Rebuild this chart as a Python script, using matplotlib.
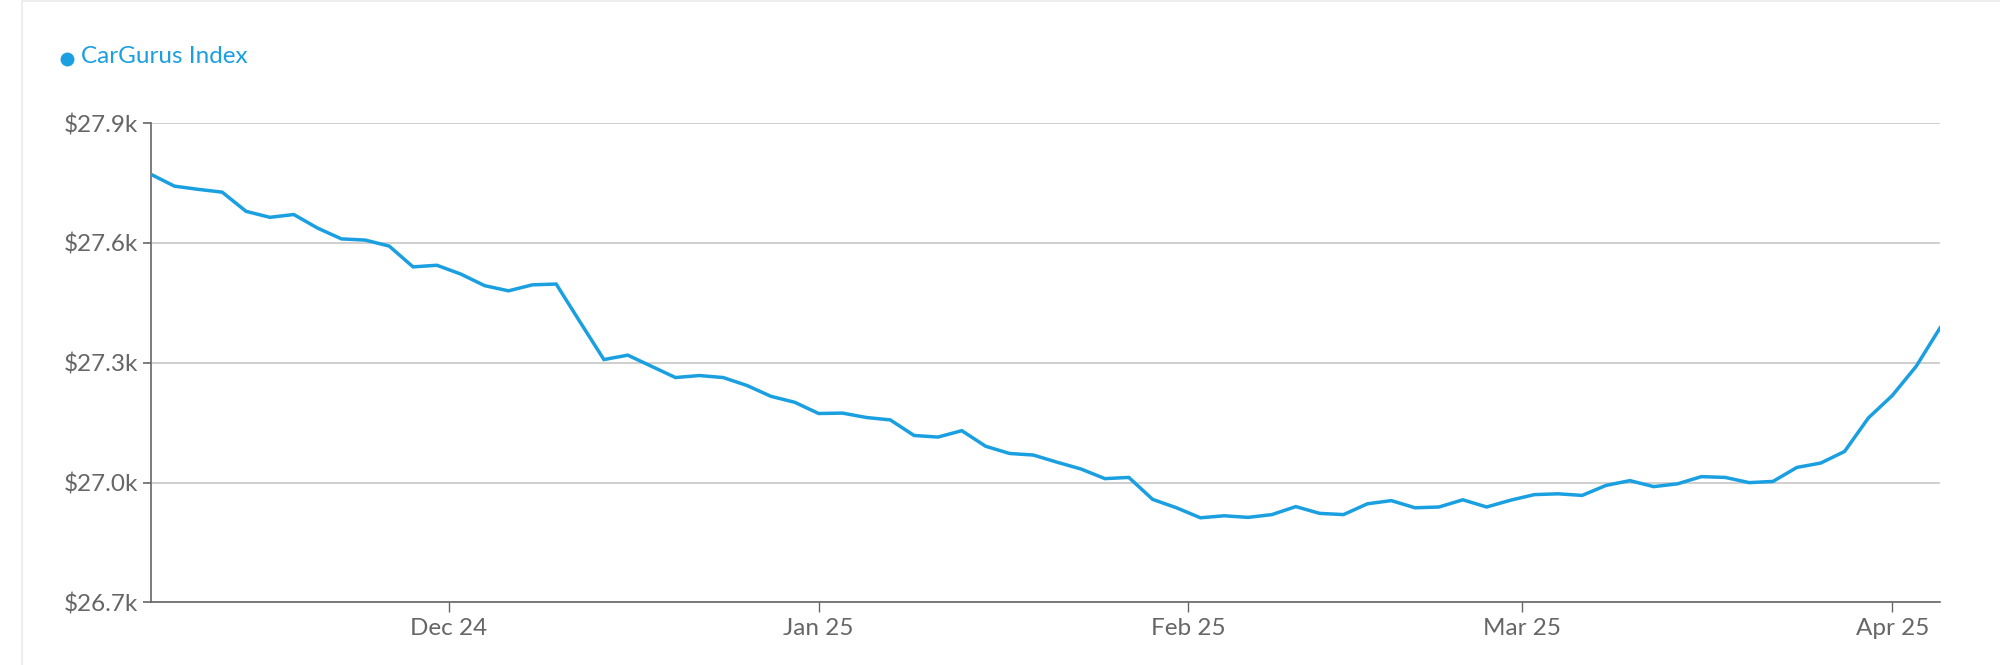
import matplotlib
matplotlib.use("Agg")
import matplotlib.pyplot as plt
import matplotlib.dates as mdates
import numpy as np
import pandas as pd

plt.rcParams['font.family'] = ['Lato', 'DejaVu Sans']

# CarGurus Index, one reading every 2 days (values in $k)
start_date = "2024-11-06"
step_days = 2
index_k = [
    27.772, 27.742, 27.734, 27.727, 27.679, 27.664, 27.671, 27.637, 27.610, 27.607,
    27.592, 27.540, 27.544, 27.522, 27.493, 27.480, 27.495, 27.497, 27.402, 27.308,
    27.319, 27.291, 27.263, 27.268, 27.263, 27.243, 27.216, 27.201, 27.173, 27.174,
    27.163, 27.157, 27.118, 27.114, 27.130, 27.091, 27.073, 27.069, 27.051, 27.034,
    27.010, 27.013, 26.958, 26.937, 26.912, 26.917, 26.913, 26.920, 26.940, 26.923,
    26.920, 26.947, 26.955, 26.937, 26.939, 26.957, 26.939, 26.956, 26.970, 26.972,
    26.968, 26.993, 27.005, 26.990, 26.997, 27.015, 27.013, 27.000, 27.003, 27.038,
    27.049, 27.078, 27.162, 27.218, 27.291, 27.387,
]
y_ticks = [26.7, 27.0, 27.3, 27.6, 27.9]
month_ticks = ["2024-12-01", "2025-01-01", "2025-02-01", "2025-03-01", "2025-04-01"]
series_name = "CarGurus Index"

dates = pd.date_range(start_date, periods=len(index_k), freq=f"{step_days}D")

blue = "#1a9fe0"
axis_grey = "#666666"

fig = plt.figure(figsize=(20, 6.65), dpi=100)
ax = fig.add_axes([0.0753, 0.094, 0.8947, 0.721])

ax.plot(dates, index_k, color=blue, lw=2.5, solid_joinstyle="miter", zorder=3)

ax.set_xlim(dates[0], dates[-1])
ax.set_ylim(y_ticks[0], y_ticks[-1])
ax.set_yticks(y_ticks)
ax.set_yticklabels([f"${v:.1f}k" for v in y_ticks])
ax.set_xticks(pd.to_datetime(month_ticks))
ax.xaxis.set_major_formatter(mdates.DateFormatter("%b %y"))

ax.grid(axis="y", color="#cccccc", lw=1.3, zorder=1)
ax.set_axisbelow(True)
for s in ["top", "right"]:
    ax.spines[s].set_visible(False)
for s in ["left", "bottom"]:
    ax.spines[s].set_color(axis_grey)
    ax.spines[s].set_linewidth(1.2)
ax.tick_params(axis="y", length=6, width=1.2, color=axis_grey, labelcolor=axis_grey,
               labelsize=17.5, pad=3)
ax.tick_params(axis="x", length=7, width=1.0, color=axis_grey, labelcolor=axis_grey,
               labelsize=17.5, pad=4)

# legend at top left
fig.add_artist(plt.Line2D([0.0333], [0.911], marker="o", markersize=10, color=blue,
                          markeredgewidth=0, transform=fig.transFigure))
fig.text(0.0405, 0.915, series_name, color=blue, fontsize=17.5, va="center", ha="left")

# faint card border
fig.add_artist(plt.Line2D([0.011, 0.011], [0, 1], color="#eeeeee", lw=1.5,
                          transform=fig.transFigure))
fig.add_artist(plt.Line2D([0.011, 1], [0.999, 0.999], color="#eeeeee", lw=1.5,
                          transform=fig.transFigure))

fig.savefig("out.png", dpi=100, facecolor="white")
